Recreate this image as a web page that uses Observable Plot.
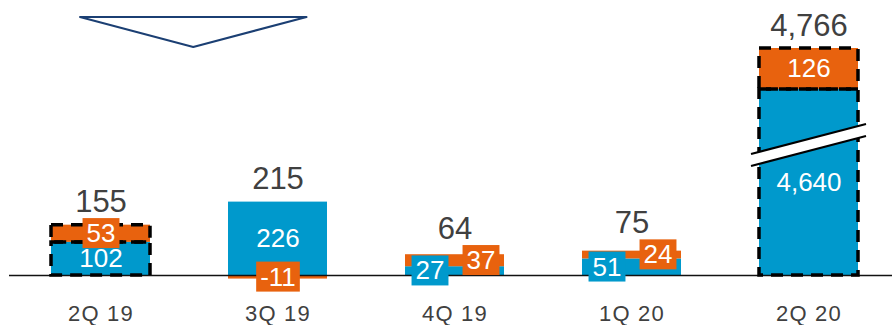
<!DOCTYPE html>
<html><head><meta charset="utf-8">
<script src="https://cdn.jsdelivr.net/npm/d3@7"></script>
<script src="https://cdn.jsdelivr.net/npm/@observablehq/plot@0.6"></script>
<style>
html,body{margin:0;padding:0;background:#fff;}
#chart svg{display:block;}
</style></head><body><div id="chart"></div>
<script>
// ---- data ----
const quarters = ["2Q 19", "3Q 19", "4Q 19", "1Q 20", "2Q 20"];
const blueValues = [102, 226, 27, 51, 4640];
const orangeValues = [53, -11, 37, 24, 126];
const totals = [155, 215, 64, 75, 4766];
const highlightedQuarters = ["2Q 19", "2Q 20"];
const seriesNames = ["base", "extra"];

// ---- styles ----
const BLUE = "#0099CC", ORANGE = "#E8620E", INK = "#404040", NAVY = "#1B3F73";
const FONT = "'Liberation Sans', Arial, Helvetica, sans-serif";

// broken (piecewise) y scale
const yDomain = [0, 388, 4480, 4766];
const yRange = [275, 149, 141, 48];
const yMirror = d3.scaleLinear().domain(yDomain).range(yRange);
const fmt = d3.formatLocale({decimal: ".", thousands: ",", grouping: [3], currency: ["", ""], minus: "-"}).format(",");

// ---- table built from arrays ----
const rows = [];
quarters.forEach((q, i) => {
  const b = blueValues[i], o = orangeValues[i];
  const segs = [
    {quarter: q, series: "base", value: b, lo: 0, hi: b},
    {quarter: q, series: "extra", value: o, lo: o >= 0 ? Math.max(b, 0) : 0, hi: o >= 0 ? Math.max(b, 0) + o : o}
  ];
  segs.forEach(s => {
    s.labelY = yMirror.invert((yMirror(s.lo) + yMirror(s.hi)) / 2);
    s.boxed = Math.abs(s.value) < 60;
  });
  const pair = segs.every(s => s.boxed);
  segs.forEach(s => { s.side = pair ? (s.series === "base" ? "left" : "right") : "center"; });
  rows.push(...segs);
});

const totalRows = quarters.map((q, i) => {
  const b = blueValues[i], o = orangeValues[i];
  const extraSeg = rows.find(r => r.quarter === q && r.series === "extra");
  const top = Math.max(b, 0) + Math.max(o, 0);
  const px = (extraSeg.boxed && o > 0) ? yMirror(extraSeg.labelY) - 22 : yMirror(top) - 13;
  return {quarter: q, total: totals[i], y: yMirror.invert(px)};
});

const boxedGroups = [
  {color: ORANGE, filter: r => r.boxed && r.series === "extra" && r.side === "center", dx: 0},
  {color: ORANGE, filter: r => r.boxed && r.series === "extra" && r.side === "right", dx: 26},
  {color: BLUE, filter: r => r.boxed && r.series === "base" && r.side === "left", dx: -25}
];

const plot = Plot.plot({
  width: 892,
  height: 325,
  marginLeft: 9,
  marginRight: 0,
  marginTop: 0,
  marginBottom: 26,
  style: {fontFamily: FONT, background: "#fff", color: INK},
  x: {type: "band", domain: quarters, range: [16, 892], paddingInner: 0.443, paddingOuter: 0.1857, axis: null},
  y: {type: "linear", domain: yDomain, range: yRange, axis: null},
  color: {type: "ordinal", domain: seriesNames, range: [BLUE, ORANGE]},
  marks: [
    Plot.barY(rows, {x: "quarter", y: "value", fill: "series", z: "series"}),
    Plot.ruleY([0], {stroke: "#111", strokeWidth: 1.3}),
    Plot.barY(rows, {
      filter: d => highlightedQuarters.includes(d.quarter),
      x: "quarter", y: "value", z: "series",
      fill: "none", stroke: "#000", strokeWidth: 3.5, strokeDasharray: "12,8"
    }),
    Plot.text(rows.filter(r => !r.boxed), {
      x: "quarter", y: "labelY", text: d => fmt(d.value),
      fill: "white", fontSize: 26, lineAnchor: "middle"
    }),
    ...boxedGroups.map(g => Plot.text(rows.filter(g.filter), {
      x: "quarter", y: "labelY", text: d => fmt(d.value), dx: g.dx,
      fill: "white", fontSize: 26, lineAnchor: "middle"
    })),
    Plot.text(totalRows, {
      x: "quarter", y: "y", text: d => fmt(d.total),
      fill: INK, fontSize: 31, lineAnchor: "bottom"
    }),
    Plot.axisX({tickSize: 0, tickPadding: 6, fontSize: 22, color: INK, label: null})
  ]
});

document.getElementById("chart").append(plot);
const svg = d3.select(plot);

// slightly wider tracking on the quarter labels
svg.selectAll("g[aria-label='x-axis tick label'] text").style("letter-spacing", "1.2px");

// label boxes behind boxed labels (text marks 1..3 in mark order)
const textGroups = svg.selectAll("g[aria-label='text']").nodes();
boxedGroups.forEach((g, gi) => {
  const node = textGroups[gi + 1];
  if (!node) return;
  d3.select(node).selectAll("text").each(function() {
    const bb = this.getBBox();
    const rect = document.createElementNS("http://www.w3.org/2000/svg", "rect");
    rect.setAttribute("x", bb.x - 4);
    rect.setAttribute("y", bb.y);
    rect.setAttribute("width", bb.width + 8);
    rect.setAttribute("height", bb.height);
    rect.setAttribute("fill", g.color);
    rect.setAttribute("stroke", "none");
    const t = this.getAttribute("transform");
    if (t) rect.setAttribute("transform", t);
    this.parentNode.insertBefore(rect, this);
  });
});

// annotations positioned from the plot's scales
const xs = plot.scale("x"), ys = plot.scale("y");
const bw = xs.bandwidth;
const ann = svg.append("g").attr("aria-label", "annotations");

// axis break on the 2Q 20 bar
const xb = xs.apply("2Q 20");
const bl = xb - 8, br = xb + bw + 8;
const c = ys.apply((yDomain[1] + yDomain[2]) / 2);
const half = 6, slope = 15;
ann.append("polygon")
  .attr("points", [[bl, c - half + slope], [br, c - half - slope], [br, c + half - slope], [bl, c + half + slope]].map(p => p.join(",")).join(" "))
  .attr("fill", "white");
ann.append("line").attr("x1", bl).attr("y1", c - half + slope).attr("x2", br).attr("y2", c - half - slope)
  .attr("stroke", "#000").attr("stroke-width", 2);
ann.append("line").attr("x1", bl).attr("y1", c + half + slope).attr("x2", br).attr("y2", c + half - slope)
  .attr("stroke", "#000").attr("stroke-width", 2);

// callout triangle above the first two quarters
const c1 = xs.apply("2Q 19") + bw / 2, c2 = xs.apply("3Q 19") + bw / 2;
const tl = c1 - 20.5, tr = c2 + 29, tm = (tl + tr) / 2;
const ty = ys.apply(yDomain[3]) - 31;
ann.append("polygon")
  .attr("points", `${tl},${ty} ${tr},${ty} ${tm},${ty + 30}`)
  .attr("fill", "white").attr("stroke", NAVY).attr("stroke-width", 2).attr("stroke-linejoin", "round");
</script>
</body></html>
